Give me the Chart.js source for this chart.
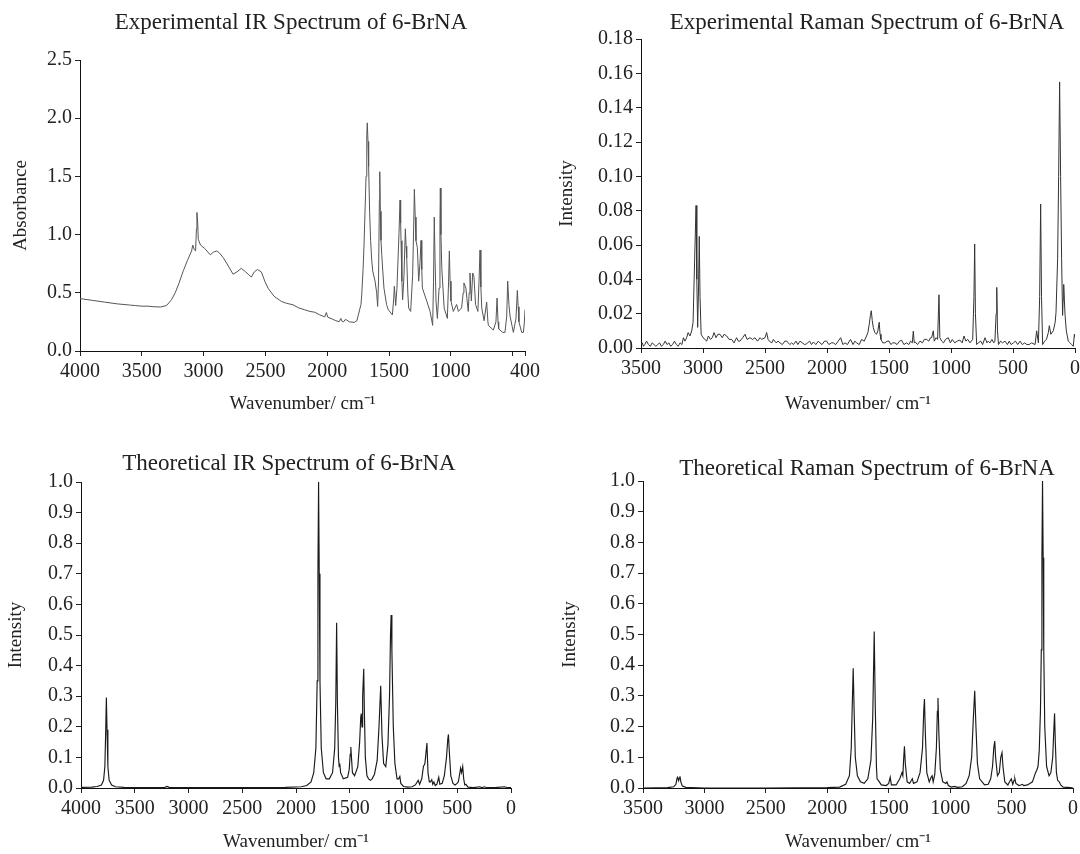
<!DOCTYPE html>
<html>
<head>
<meta charset="utf-8">
<script src="https://cdn.jsdelivr.net/npm/chart.js@4.4.1/dist/chart.umd.min.js"></script>
<style>
  body { margin: 0; background: #fff; }
  #wrap { position: relative; width: 1080px; height: 854px; }
  canvas { position: absolute; }
</style>
</head>
<body>
<div id="wrap">
  <canvas id="expIr" width="540" height="427" style="left:0;top:0"></canvas>
  <canvas id="expRaman" width="540" height="427" style="left:540px;top:0"></canvas>
  <canvas id="theoIr" width="540" height="427" style="left:0;top:427px"></canvas>
  <canvas id="theoRaman" width="540" height="427" style="left:540px;top:427px"></canvas>
</div>
<script>
// [wavenumber, value] pairs
const expIrPoints = [
  [4000,0.45],[3900,0.435],[3800,0.42],[3700,0.405],[3600,0.395],[3550,0.39],[3500,0.385],[3450,0.385],
  [3400,0.38],[3350,0.378],[3300,0.39],[3260,0.44],[3230,0.5],[3200,0.58],[3164,0.69],[3130,0.78],
  [3097,0.86],[3088,0.91],[3075,0.87],[3065,0.86],[3058,1.05],[3054,1.19],[3048,1.1],[3043,0.96],
  [3025,0.91],[2990,0.88],[2946,0.826],[2920,0.85],[2893,0.86],[2870,0.84],[2840,0.80],[2800,0.73],
  [2762,0.66],[2730,0.68],[2695,0.71],[2660,0.68],[2640,0.66],[2614,0.635],[2590,0.68],[2565,0.70],
  [2533,0.68],[2505,0.6],[2479,0.54],[2430,0.47],[2371,0.426],[2330,0.41],[2277,0.397],[2230,0.37],
  [2182,0.354],[2140,0.34],[2101,0.333],[2060,0.31],[2020,0.293],[2007,0.33],[1995,0.29],[1960,0.275],
  [1930,0.26],[1902,0.252],[1890,0.28],[1880,0.255],[1868,0.25],[1855,0.27],[1841,0.265],[1820,0.25],
  [1781,0.246],[1760,0.26],[1748,0.31],[1727,0.4],[1721,0.48],[1710,0.7],[1702,0.92],[1690,1.35],
  [1686,1.50],[1680,1.85],[1676,1.96],[1670,1.8],[1665,1.585],[1657,1.2],[1649,0.95],[1640,0.78],
  [1632,0.687],[1613,0.60],[1600,0.5],[1592,0.383],[1585,0.6],[1578,1.3],[1575,1.54],[1570,1.2],
  [1565,0.95],[1559,0.83],[1550,0.68],[1541,0.54],[1520,0.4],[1506,0.354],[1473,0.31],[1462,0.45],
  [1457,0.556],[1446,0.39],[1436,0.54],[1425,0.85],[1419,1.02],[1411,1.296],[1406,1.1],[1403,0.948],
  [1396,0.6],[1390,0.44],[1379,0.65],[1368,1.05],[1362,0.9],[1357,0.80],[1348,0.5],[1341,0.368],
  [1325,0.34],[1309,0.65],[1300,1.1],[1295,1.39],[1288,1.15],[1282,0.948],[1271,0.89],[1260,0.60],
  [1250,0.75],[1241,0.95],[1235,0.7],[1230,0.54],[1195,0.43],[1168,0.34],[1147,0.22],[1140,0.6],
  [1134,1.15],[1128,0.8],[1120,0.43],[1109,0.28],[1095,0.54],[1088,1.1],[1085,1.40],[1080,1.0],
  [1073,0.71],[1054,0.37],[1028,0.28],[1018,0.6],[1012,0.86],[1006,0.6],[999,0.43],[980,0.34],
  [953,0.40],[939,0.34],[913,0.37],[900,0.5],[894,0.585],[878,0.54],[870,0.45],[859,0.34],
  [852,0.5],[845,0.67],[834,0.43],[823,0.67],[813,0.64],[800,0.40],[781,0.34],[772,0.6],
  [764,0.867],[757,0.55],[750,0.37],[731,0.26],[710,0.42],[700,0.25],[696,0.22],[656,0.18],
  [635,0.25],[626,0.455],[618,0.25],[613,0.19],[580,0.16],[562,0.16],[548,0.3],[540,0.60],
  [530,0.4],[521,0.30],[494,0.16],[473,0.28],[462,0.52],[455,0.38],[449,0.25],[427,0.16],
  [413,0.16],[405,0.25],[400,0.354]
];

const expRamanPoints = [
  [3500,0.002],[3490,0.003],[3480,0.001],[3470,0.002],[3455,0.004],[3440,0.002],[3425,0.001],[3410,0.003],
  [3395,0.002],[3380,0.001],[3365,0.002],[3350,0.003],[3335,0.001],[3320,0.002],[3305,0.004],[3290,0.002],
  [3275,0.003],[3260,0.001],[3245,0.002],[3230,0.004],[3215,0.002],[3200,0.001],[3185,0.003],[3170,0.002],
  [3158,0.006],[3145,0.004],[3132,0.006],[3120,0.009],[3105,0.007],[3091,0.01],[3080,0.015],[3068,0.05],
  [3056,0.083],[3050,0.04],[3043,0.012],[3036,0.035],[3030,0.065],[3024,0.03],[3015,0.008],[3000,0.006],
  [2984,0.005],[2970,0.004],[2957,0.007],[2940,0.005],[2925,0.006],[2911,0.009],[2895,0.006],[2880,0.008],
  [2863,0.008],[2845,0.006],[2830,0.008],[2809,0.007],[2790,0.005],[2769,0.005],[2750,0.003],[2729,0.006],
  [2715,0.004],[2702,0.004],[2680,0.006],[2661,0.008],[2645,0.005],[2621,0.006],[2600,0.005],[2581,0.006],
  [2560,0.004],[2540,0.006],[2527,0.005],[2500,0.006],[2487,0.009],[2475,0.005],[2465,0.004],[2445,0.003],
  [2433,0.005],[2410,0.003],[2395,0.004],[2379,0.003],[2360,0.002],[2340,0.004],[2325,0.004],[2300,0.002],
  [2285,0.003],[2271,0.002],[2250,0.004],[2235,0.002],[2218,0.004],[2200,0.003],[2180,0.002],[2164,0.0025],
  [2140,0.004],[2125,0.002],[2110,0.0035],[2090,0.002],[2070,0.004],[2057,0.003],[2040,0.002],[2020,0.004],
  [2003,0.004],[1985,0.002],[1965,0.003],[1949,0.003],[1930,0.002],[1910,0.004],[1890,0.006],[1872,0.002],
  [1855,0.003],[1835,0.002],[1820,0.004],[1810,0.005],[1790,0.002],[1775,0.004],[1761,0.003],[1740,0.002],
  [1721,0.005],[1700,0.004],[1681,0.007],[1670,0.009],[1659,0.014],[1650,0.019],[1643,0.0217],[1635,0.016],
  [1627,0.012],[1615,0.009],[1600,0.008],[1590,0.01],[1579,0.015],[1572,0.008],[1565,0.005],[1550,0.003],
  [1533,0.003],[1515,0.004],[1500,0.004],[1485,0.002],[1470,0.003],[1452,0.003],[1435,0.002],[1415,0.004],
  [1398,0.0045],[1380,0.002],[1358,0.003],[1340,0.002],[1326,0.004],[1312,0.003],[1304,0.0098],[1296,0.003],
  [1288,0.0035],[1270,0.002],[1250,0.004],[1230,0.003],[1215,0.005],[1196,0.005],[1180,0.004],[1165,0.006],
  [1156,0.006],[1143,0.01],[1135,0.004],[1120,0.006],[1108,0.005],[1097,0.031],[1090,0.006],[1075,0.004],
  [1060,0.003],[1045,0.005],[1022,0.006],[1005,0.003],[990,0.005],[970,0.003],[950,0.004],[928,0.0046],
  [910,0.003],[895,0.007],[880,0.004],[865,0.005],[847,0.003],[825,0.005],[815,0.03],[809,0.0606],
  [803,0.02],[793,0.002],[780,0.003],[760,0.004],[745,0.002],[726,0.006],[710,0.003],[700,0.004],
  [686,0.003],[670,0.005],[655,0.003],[646,0.004],[636,0.02],[631,0.0353],[625,0.01],[617,0.002],
  [600,0.004],[585,0.003],[564,0.004],[545,0.002],[530,0.004],[515,0.002],[497,0.003],[480,0.004],
  [462,0.002],[443,0.004],[425,0.002],[405,0.003],[389,0.002],[370,0.002],[350,0.003],[322,0.002],
  [309,0.010],[295,0.003],[285,0.03],[277,0.0839],[270,0.03],[261,0.002],[245,0.004],[230,0.005],
  [215,0.009],[207,0.013],[195,0.008],[175,0.010],[160,0.015],[153,0.0208],[140,0.052],[132,0.1],
  [124,0.155],[116,0.1],[108,0.052],[100,0.019],[96,0.028],[91,0.037],[86,0.028],[80,0.019],
  [70,0.01],[54,0.004],[40,0.003],[27,0.002],[14,0.001],[5,0.008],[0,0.006]
];

const theoIrPoints = [
  [4000,0.002],[3900,0.003],[3850,0.005],[3810,0.01],[3790,0.025],[3778,0.07],[3770,0.19],[3764,0.296],
  [3758,0.19],[3750,0.07],[3738,0.025],[3715,0.01],[3680,0.004],[3600,0.002],[3400,0.001],[3220,0.002],
  [3199,0.005],[3180,0.002],[3000,0.001],[2500,0.001],[2100,0.002],[1950,0.004],[1900,0.008],[1860,0.02],
  [1835,0.05],[1815,0.13],[1803,0.35],[1796,0.7],[1790,1.0],[1784,0.7],[1777,0.35],[1765,0.13],
  [1745,0.05],[1720,0.03],[1690,0.03],[1660,0.05],[1640,0.13],[1630,0.28],[1622,0.54],[1615,0.28],
  [1605,0.1],[1598,0.07],[1593,0.08],[1585,0.05],[1560,0.03],[1520,0.035],[1505,0.06],[1496,0.11],
  [1490,0.134],[1484,0.1],[1475,0.05],[1455,0.04],[1425,0.07],[1408,0.15],[1398,0.23],[1393,0.243],
  [1386,0.2],[1380,0.3],[1370,0.39],[1364,0.25],[1355,0.1],[1340,0.04],[1325,0.03],[1308,0.025],
  [1292,0.03],[1270,0.045],[1245,0.09],[1228,0.2],[1212,0.334],[1200,0.17],[1185,0.08],[1165,0.07],
  [1145,0.14],[1130,0.3],[1121,0.5],[1115,0.565],[1108,0.45],[1095,0.2],[1080,0.08],[1060,0.03],
  [1045,0.03],[1034,0.038],[1025,0.015],[1000,0.005],[960,0.003],[920,0.004],[890,0.01],[863,0.025],
  [850,0.012],[830,0.03],[815,0.07],[801,0.08],[795,0.1],[782,0.147],[772,0.05],[760,0.02],
  [750,0.02],[737,0.027],[728,0.012],[717,0.02],[705,0.008],[690,0.012],[672,0.035],[662,0.012],
  [640,0.015],[620,0.04],[600,0.1],[588,0.16],[582,0.175],[574,0.12],[560,0.04],[540,0.015],
  [520,0.01],[501,0.015],[490,0.02],[480,0.04],[469,0.065],[460,0.05],[449,0.07],[440,0.03],
  [430,0.01],[420,0.012],[400,0.003],[350,0.001],[290,0.004],[270,0.001],[250,0.004],[220,0.001],
  [150,0.001],[60,0.004],[30,0.001],[0,0.001]
];

const theoRamanPoints = [
  [3500,0.0],[3300,0.001],[3250,0.004],[3232,0.012],[3224,0.03],[3218,0.035],[3210,0.024],[3204,0.032],
  [3199,0.038],[3192,0.02],[3180,0.006],[3150,0.002],[3000,0.0],[2500,0.0],[2000,0.001],[1900,0.003],
  [1850,0.012],[1820,0.04],[1805,0.13],[1796,0.28],[1789,0.39],[1782,0.26],[1772,0.1],[1755,0.04],
  [1730,0.02],[1700,0.015],[1670,0.03],[1645,0.09],[1630,0.23],[1618,0.51],[1610,0.28],[1600,0.07],
  [1595,0.03],[1585,0.025],[1560,0.01],[1520,0.008],[1500,0.015],[1488,0.035],[1478,0.01],[1440,0.01],
  [1410,0.03],[1392,0.05],[1385,0.04],[1379,0.09],[1372,0.136],[1365,0.08],[1350,0.02],[1330,0.015],
  [1315,0.025],[1308,0.03],[1298,0.015],[1270,0.02],[1245,0.05],[1225,0.13],[1215,0.25],[1209,0.29],
  [1202,0.18],[1190,0.05],[1170,0.02],[1155,0.035],[1147,0.04],[1138,0.02],[1125,0.045],[1112,0.13],
  [1104,0.25],[1099,0.293],[1092,0.18],[1080,0.06],[1060,0.02],[1035,0.015],[1026,0.02],[1015,0.008],
  [990,0.003],[964,0.005],[940,0.002],[900,0.004],[870,0.015],[845,0.04],[825,0.1],[812,0.22],
  [800,0.317],[790,0.2],[778,0.08],[760,0.03],[720,0.01],[690,0.012],[670,0.03],[655,0.07],
  [645,0.13],[637,0.153],[630,0.1],[615,0.04],[600,0.05],[588,0.1],[578,0.115],[570,0.07],
  [555,0.02],[530,0.01],[510,0.025],[502,0.03],[490,0.012],[480,0.025],[473,0.03],[465,0.015],
  [440,0.008],[425,0.01],[414,0.012],[400,0.008],[370,0.01],[330,0.02],[305,0.05],[295,0.058],
  [285,0.07],[275,0.12],[265,0.25],[258,0.45],[253,0.75],[248,1.0],[243,0.75],[238,0.45],
  [230,0.2],[215,0.07],[195,0.04],[180,0.05],[165,0.1],[155,0.2],[150,0.243],[144,0.15],
  [135,0.05],[125,0.025],[112,0.02],[100,0.01],[80,0.003],[50,0.002],[20,0.001],[0,0.0]
];

// tick values
const irXTicks = [4000, 3500, 3000, 2500, 2000, 1500, 1000, 500, 400];
const irXHidden = [500];
const irYTicks = [0, 0.5, 1.0, 1.5, 2.0, 2.5];
const ramanXTicks = [3500, 3000, 2500, 2000, 1500, 1000, 500, 0];
const ramanYTicks = [0, 0.02, 0.04, 0.06, 0.08, 0.10, 0.12, 0.14, 0.16, 0.18];
const theoIrXTicks = [4000, 3500, 3000, 2500, 2000, 1500, 1000, 500, 0];
const theoYTicks = [0, 0.1, 0.2, 0.3, 0.4, 0.5, 0.6, 0.7, 0.8, 0.9, 1.0];

const serif = '"Liberation Serif", "Times New Roman", Times, serif';
Chart.defaults.font.family = serif;
Chart.defaults.color = '#222';

// title drawn at a fixed spot above each panel
const panelTitle = {
    id: 'panelTitle',
    afterDraw(chart, args, opts) {
        const c = chart.ctx;
        c.save();
        c.font = opts.size + 'px ' + serif;
        c.fillStyle = '#222';
        c.textAlign = 'center';
        c.textBaseline = 'alphabetic';
        c.fillText(opts.text, opts.x, opts.y);
        c.restore();
    }
};

function spectrum(id, p) {
    return new Chart(document.getElementById(id), {
        type: 'line',
        data: {
            datasets: [{
                data: p.points.map(d => ({x: d[0], y: d[1]})),
                borderColor: p.lineColor,
                borderWidth: p.lineWidth,
                pointRadius: 0,
                tension: 0,
                fill: false
            }]
        },
        options: {
            responsive: false,
            animation: false,
            layout: { padding: { left: 0, right: p.padRight, top: p.padTop, bottom: 0 } },
            plugins: {
                legend: { display: false },
                tooltip: { enabled: false },
                panelTitle: { text: p.title, x: p.titleX, y: p.titleY, size: 23 }
            },
            scales: {
                x: {
                    type: 'linear',
                    reverse: true,
                    min: p.xMin,
                    max: p.xMax,
                    afterBuildTicks: s => { s.ticks = p.xTicks.map(v => ({value: v})); },
                    afterFit: s => { s.height = p.xHeight; s.paddingLeft = 0; s.paddingRight = 0; },
                    ticks: {
                        autoSkip: false,
                        maxRotation: 0,
                        padding: 4,
                        color: '#222',
                        font: { size: 20 },
                        callback: v => (p.xHidden || []).includes(v) ? '' : String(v)
                    },
                    grid: { drawOnChartArea: false, tickLength: 5, color: '#222' },
                    border: { color: '#111', width: 1 },
                    title: {
                        display: true,
                        text: 'Wavenumber/ cm\u207B\u00B9',
                        color: '#222',
                        font: { size: 19 },
                        padding: { top: 0, bottom: p.xTitlePad }
                    }
                },
                y: {
                    type: 'linear',
                    min: 0,
                    max: p.yMax,
                    afterBuildTicks: s => { s.ticks = p.yTicks.map(v => ({value: v})); },
                    afterFit: s => { s.width = p.yWidth; s.paddingTop = 0; s.paddingBottom = 0; },
                    ticks: {
                        padding: 3,
                        color: '#222',
                        font: { size: 20 },
                        callback: v => v.toFixed(p.yDecimals)
                    },
                    grid: { drawOnChartArea: false, tickLength: 5, color: '#222' },
                    border: { color: '#111', width: 1 },
                    title: {
                        display: true,
                        text: p.yTitle,
                        color: '#222',
                        font: { size: 19 },
                        padding: { top: p.yTitlePad, bottom: 0 }
                    }
                }
            }
        },
        plugins: [panelTitle]
    });
}

spectrum('expIr', {
    points: expIrPoints, lineColor: '#555', lineWidth: 1,
    title: 'Experimental IR Spectrum of 6-BrNA', titleX: 291, titleY: 29,
    xMin: 400, xMax: 4000, xTicks: irXTicks, xHidden: irXHidden,
    yMax: 2.5, yTicks: irYTicks, yDecimals: 1, yTitle: 'Absorbance',
    padTop: 60, padRight: 15, xHeight: 76, yWidth: 80, xTitlePad: 11.6, yTitlePad: 9.6
});

spectrum('expRaman', {
    points: expRamanPoints, lineColor: '#333', lineWidth: 1,
    title: 'Experimental Raman Spectrum of 6-BrNA', titleX: 327, titleY: 29,
    xMin: 0, xMax: 3500, xTicks: ramanXTicks,
    yMax: 0.18, yTicks: ramanYTicks, yDecimals: 2, yTitle: 'Intensity',
    padTop: 39, padRight: 5, xHeight: 79, yWidth: 101, xTitlePad: 11.6, yTitlePad: 15.6
});

spectrum('theoIr', {
    points: theoIrPoints, lineColor: '#1a1a1a', lineWidth: 1.15,
    title: 'Theoretical IR Spectrum of 6-BrNA', titleX: 289, titleY: 43,
    xMin: 0, xMax: 4000, xTicks: theoIrXTicks,
    yMax: 1.0, yTicks: theoYTicks, yDecimals: 1, yTitle: 'Intensity',
    padTop: 55, padRight: 29, xHeight: 66, yWidth: 81, xTitlePad: 0.6, yTitlePad: 5.1
});

spectrum('theoRaman', {
    points: theoRamanPoints, lineColor: '#1a1a1a', lineWidth: 1.15,
    title: 'Theoretical Raman Spectrum of 6-BrNA', titleX: 327, titleY: 48,
    xMin: 0, xMax: 3500, xTicks: ramanXTicks,
    yMax: 1.0, yTicks: theoYTicks, yDecimals: 1, yTitle: 'Intensity',
    padTop: 54, padRight: 7, xHeight: 66, yWidth: 103, xTitlePad: 0.6, yTitlePad: 18.6
});
</script>
</body>
</html>
